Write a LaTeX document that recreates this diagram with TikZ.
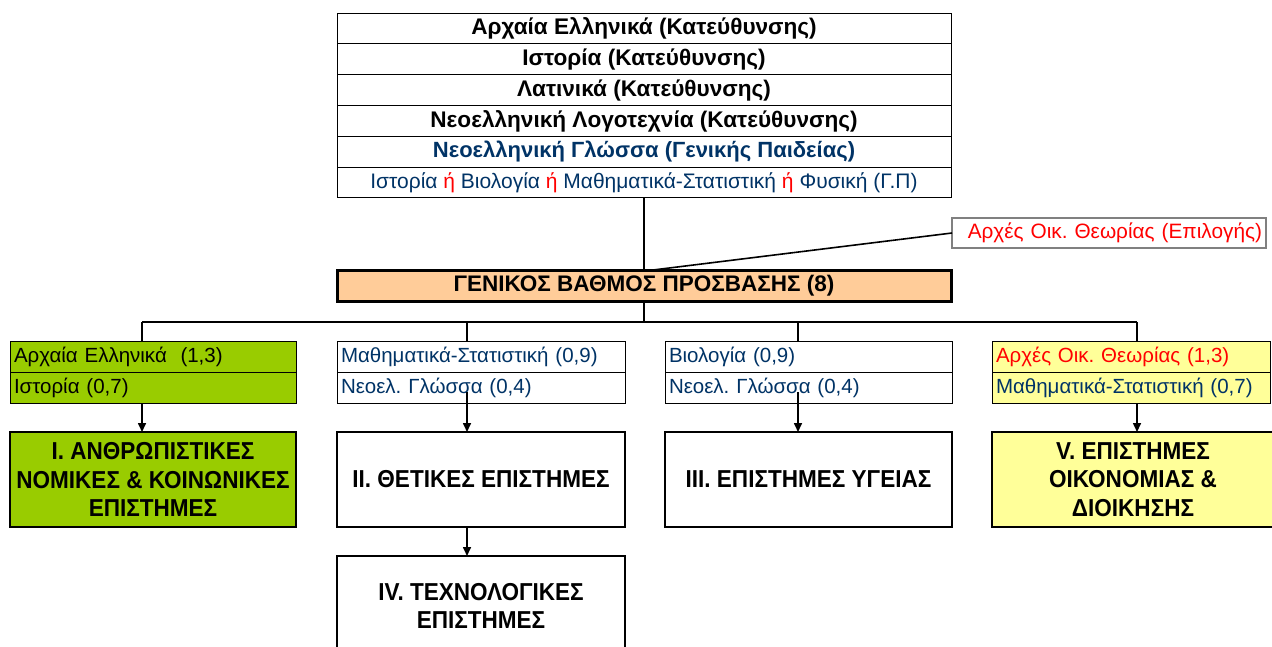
\documentclass[tikz,border=0pt]{standalone}
\usepackage{fontspec}
\setmainfont{Liberation Sans}
\newfontfamily\condfont[FakeStretch=0.92]{Liberation Sans}
\usetikzlibrary{arrows.meta,calc}
\definecolor{navy}{HTML}{003366}
\definecolor{grn}{HTML}{99CC00}
\definecolor{ylw}{HTML}{FFFF99}
\definecolor{peach}{HTML}{FFCC99}
\definecolor{redt}{HTML}{FF0000}
\definecolor{bordergray}{HTML}{808080}
\frenchspacing
\begin{document}
\begin{tikzpicture}[x=1pt,y=-1pt,
  cell/.style={draw=black, line width=1pt, inner sep=0pt, outer sep=0pt, anchor=north west,
    minimum width=614pt, minimum height=30.83pt, align=center},
  toprow/.style={cell, font=\bfseries\fontsize{22.6}{25}\selectfont},
  subj/.style={draw=black, line width=1pt, anchor=north west, outer sep=0pt, inner xsep=4pt,
    inner ysep=0pt, minimum height=31pt, align=left, font=\fontsize{20.5}{23}\selectfont, text=navy},
  cat/.style={draw=black, line width=2.5pt, anchor=north west, inner sep=0pt, outer sep=0pt,
    minimum height=95pt, align=center, font=\condfont\bfseries\fontsize{24.5}{28.5}\selectfont},
  conn/.style={line width=1.6pt},
  arr/.style={line width=1.6pt, -{Triangle[length=9pt,width=8pt]}},
]
\clip (0,0) rectangle (1272,646);
\fill[white] (0,0) rectangle (1272,646);

% top table
\node[toprow] (t1) at (337,13) {Αρχαία Ελληνικά (Κατεύθυνσης)};
\node[toprow] (t2) at (t1.south west) {Ιστορία (Κατεύθυνσης)};
\node[toprow] (t3) at (t2.south west) {Λατινικά (Κατεύθυνσης)};
\node[toprow] (t4) at (t3.south west) {Νεοελληνική Λογοτεχνία (Κατεύθυνσης)};
\node[toprow, text=navy, font=\bfseries\fontsize{22}{25}\selectfont] (t5) at (t4.south west) {Νεοελληνική Γλώσσα (Γενικής Παιδείας)};
\node[cell, text=navy, font=\fontsize{21}{24}\selectfont] (t6) at (t5.south west)
  {Ιστορία \textcolor{redt}{ή} Βιολογία \textcolor{redt}{ή} Μαθηματικά-Στατιστική \textcolor{redt}{ή} Φυσική (Γ.Π)};

% general grade
\node[draw=black, line width=3pt, fill=peach, anchor=north west, minimum width=614pt,
  minimum height=31pt, inner sep=0pt, outer sep=0pt,
  font=\bfseries\fontsize{22.5}{25}\selectfont] (gen) at (337,270) {ΓΕΝΙΚΟΣ ΒΑΘΜΟΣ ΠΡΟΣΒΑΣΗΣ (8)};

% elective
\node[draw=bordergray, line width=1.5pt, fill=white, anchor=north west, text width=306pt,
  align=right, minimum height=30pt, inner xsep=4pt, inner ysep=0pt, outer sep=0pt, text=redt,
  font=\fontsize{20.8}{23}\selectfont] (choice) at (952,218) {Αρχές Οικ. Θεωρίας (Επιλογής)};

\coordinate (gj) at (653,270);
\draw[conn] (choice.west) -- (gj);
\draw[conn] (t6.south) -- (gen.north);

% bus
\coordinate (d1) at (142,322);
\coordinate (d2) at (467,322);
\coordinate (d3) at (798,322);
\coordinate (d4) at (1137,322);
\draw[conn] (gen.south) -- (gen.south |- d1);
\draw[conn] (d1) -- (d4);

% subject boxes
\node[subj, fill=grn, text=black, text width=278pt] (s1a) at (10,341) {Αρχαία Ελληνικά\ \ (1,3)};
\node[subj, fill=grn, text=black, text width=278pt] (s1b) at (s1a.south west) {Ιστορία (0,7)};
\node[subj, text width=280pt] (s2a) at (337,341) {Μαθηματικά-Στατιστική (0,9)};
\node[subj, text width=280pt] (s2b) at (s2a.south west) {Νεοελ. Γλώσσα (0,4)};
\node[subj, text width=279pt] (s3a) at (665,341) {Βιολογία (0,9)};
\node[subj, text width=279pt] (s3b) at (s3a.south west) {Νεοελ. Γλώσσα (0,4)};
\node[subj, fill=ylw, text=redt, text width=270pt] (s4a) at (992,341) {Αρχές Οικ. Θεωρίας (1,3)};
\node[subj, fill=ylw, text width=270pt] (s4b) at (s4a.south west) {Μαθηματικά-Στατιστική (0,7)};

\foreach \i in {1,2,3,4} \draw[conn] (d\i) -- (d\i |- s\i a.north);

% category boxes
\node[cat, fill=grn, minimum width=286pt] (c1) at (10,432) {I. ΑΝΘΡΩΠΙΣΤΙΚΕΣ\\ΝΟΜΙΚΕΣ \& ΚΟΙΝΩΝΙΚΕΣ\\ΕΠΙΣΤΗΜΕΣ};
\node[cat, minimum width=288pt] (c2) at (337,432) {II. ΘΕΤΙΚΕΣ ΕΠΙΣΤΗΜΕΣ};
\node[cat, minimum width=287pt] (c3) at (665,432) {III. ΕΠΙΣΤΗΜΕΣ ΥΓΕΙΑΣ};
\node[cat, fill=ylw, minimum width=282pt] (c4) at (992,432) {V. ΕΠΙΣΤΗΜΕΣ\\ΟΙΚΟΝΟΜΙΑΣ \&\\ΔΙΟΙΚΗΣΗΣ};
\node[cat, minimum width=288pt, minimum height=100pt] (c5) at (337,556) {\raisebox{10pt}{\parbox{280pt}{\centering IV. ΤΕΧΝΟΛΟΓΙΚΕΣ\\ΕΠΙΣΤΗΜΕΣ}}};

% arrows
\coordinate (a2) at (467,392);
\coordinate (a3) at (798,392);
\draw[arr] (s1b.south -| d1) -- (c1.north -| d1);
\draw[arr] (a2) -- (a2 |- c2.north);
\draw[arr] (a3) -- (a3 |- c3.north);
\draw[arr] (s4b.south -| d4) -- (c4.north -| d4);
\draw[arr] (c2.south -| d2) -- (c5.north -| d2);
\end{tikzpicture}
\end{document}
